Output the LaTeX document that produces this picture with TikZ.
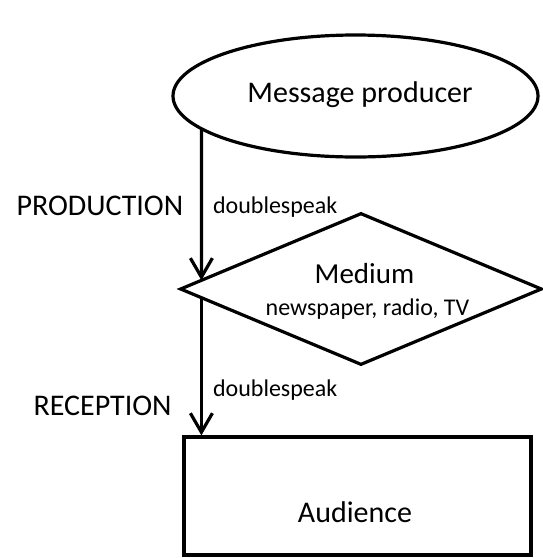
\documentclass[tikz,border=0pt]{standalone}
\usepackage{fontspec}
\setmainfont{Carlito}
\usetikzlibrary{shapes.geometric,arrows.meta,intersections}
\begin{document}
\begin{tikzpicture}[x=1pt,y=-1pt,line width=3.2pt,
  shapebox/.style={draw,inner sep=0pt},
  flow/.style={-{Straight Barb[length=19pt,width=22pt]}},
  bigtext/.style={font=\fontsize{30}{36}\selectfont,inner sep=0pt},
  midtext/.style={font=\fontsize{24}{29}\selectfont,inner sep=0pt}]
\useasboundingbox (0,0) rectangle (542,558);

% main shapes
\node[shapebox,ellipse,minimum width=365pt,minimum height=122pt,name path=pe] (prod) at (355.5,96) {};
\node[shapebox,diamond,minimum width=362pt,minimum height=152pt,name path=pd] (med) at (361,289) {};
\node[shapebox,minimum width=347pt,minimum height=118pt] (aud) at (357.5,496) {};

% texts inside the shapes
\node[bigtext,anchor=base] (prodt) at (360,102) {Message producer};
\node[font=\fontsize{29}{34}\selectfont,inner sep=0pt,anchor=base] (medt) at (364.5,283) {Medium};
\node[midtext,anchor=base] (medsub) at (367.5,315) {newspaper, radio, TV};
\node[bigtext,anchor=base] (audt) at (355,522) {Audience};

% vertical flow line: where it meets the ellipse and the diamond
\coordinate (cx) at ([xshift=19pt]aud.north west);
\path[name path=vl] (cx) -- (cx |- prod.center);
\path[name intersections={of=vl and pe,by={pe1}}];
\path[name intersections={of=vl and pd,sort by=vl,by={pdlo,pdhi}}];

% connectors
\draw[flow] (pe1) -- (pdhi);
\draw[flow] (pdlo) -- (cx);

% connector labels
\node[midtext,anchor=base west] (ds1) at (211.5,213) {doublespeak};
\node[midtext,anchor=base west] (ds2) at (211.5,396) {doublespeak};

% stage labels
\node[bigtext,anchor=base west] (stp) at (15,215) {PRODUCTION};
\node[bigtext,anchor=base west] (str) at (32,415) {RECEPTION};
\end{tikzpicture}
\end{document}
